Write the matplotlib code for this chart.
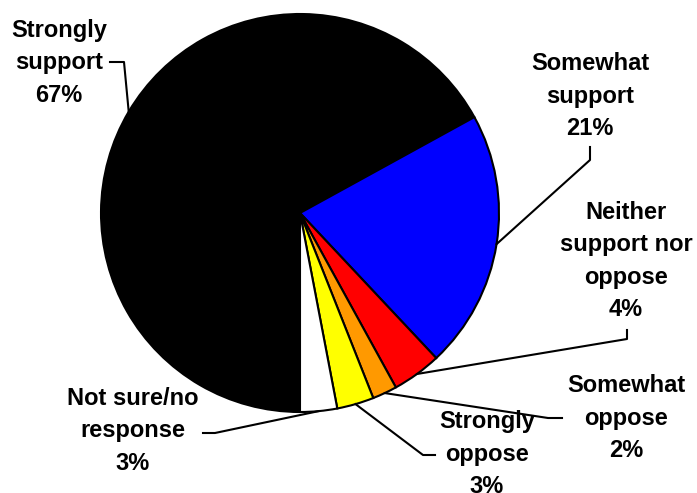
import numpy as np
import matplotlib.pyplot as plt

plt.rcParams['font.family'] = ['Liberation Sans', 'DejaVu Sans']

labels = ['Strongly\nsupport', 'Somewhat\nsupport', 'Neither\nsupport nor\noppose',
          'Somewhat\noppose', 'Strongly\noppose', 'Not sure/no\nresponse']
shares = [67, 21, 4, 2, 3, 3]
colors = ['#000000', '#0000ff', '#ff0000', '#ff9900', '#ffff00', '#ffffff']

W, H = 697, 493
cx, cy, r = 300, H - 213, 199

# label centres and leader elbows, in pixels measured from the top-left corner
label_pos = [(59, 63), (590, 96), (626, 261), (626, 418), (487, 454), (133, 431)]
elbows = [((124, 62), (110, 62)),
          ((590, 160), (590, 147)),
          ((627, 339), (627, 330)),
          ((548, 418), (562, 418)),
          ((423, 455), (435, 455)),
          ((215, 433), (203, 433))]

fig = plt.figure(figsize=(W / 100, H / 100), dpi=100)
ax = fig.add_axes([0, 0, 1, 1])
wedges, _ = ax.pie(shares, colors=colors, startangle=270, counterclock=False,
                   radius=r, center=(cx, cy),
                   wedgeprops=dict(edgecolor='black', linewidth=1.5))
ax.set_xlim(0, W)
ax.set_ylim(0, H)
ax.set_aspect('equal')
ax.axis('off')

for w, lab, pct, (tx, ty), (e1, e2) in zip(wedges, labels, shares, label_pos, elbows):
    mid = np.deg2rad((w.theta1 + w.theta2) / 2)
    x0, y0 = cx + r * np.cos(mid), cy + r * np.sin(mid)
    ax.plot([x0, e1[0], e2[0]], [y0, H - e1[1], H - e2[1]], color='black', lw=1.5)
    ax.text(tx, H - ty, f'{lab}\n{pct}%', ha='center', va='center', fontsize=17,
            fontweight='bold', linespacing=1.53, multialignment='center')

fig.savefig('out.png', dpi=100)
